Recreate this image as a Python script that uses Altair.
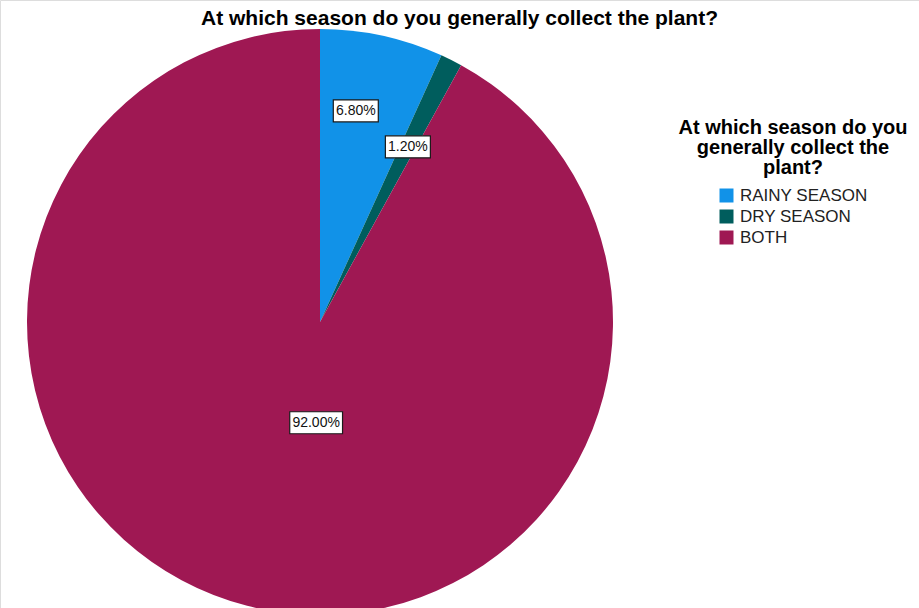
import altair as alt
import pandas as pd

categories = ["RAINY SEASON", "DRY SEASON", "BOTH"]
percents = [6.8, 1.2, 92.0]
labels = ["6.80%", "1.20%", "92.00%"]
order = [0, 1, 2]

colors = ["#1192e8", "#005d5d", "#9f1853"]
title_text = "At which season do you generally collect the plant?"

df = pd.DataFrame({"category": categories, "pct": percents, "label": labels, "order": order})

CX, CY, R = 320, 322, 293

base = alt.Chart(df)

pie = base.mark_arc(stroke=None).encode(
    theta=alt.Theta("pct:Q", stack=True),
    order=alt.Order("order:Q"),
    color=alt.Color(
        "category:N",
        scale=alt.Scale(domain=categories, range=colors),
        sort=categories,
        legend=alt.Legend(
            title=["At which season do you", "generally collect the", "plant?"],
            orient="none",
            legendX=679,
            legendY=118,
            titleFont="Liberation Sans",
            titleFontSize=20,
            titleFontWeight="bold",
            titleColor="#000000",
            titleAlign="center",
            titleAnchor="middle",
            titleLimit=400,
            titleLineHeight=20,
            titlePadding=9,
            labelFont="Liberation Sans",
            labelFontSize=17,
            labelColor="#222222",
            symbolType="square",
            symbolSize=196,
            symbolStrokeWidth=0,
            rowPadding=3,
            labelOffset=5,
        ),
    ),
    x=alt.value(CX),
    y=alt.value(CY),
    radius=alt.value(R),
)

pos = (
    base.transform_window(cum="sum(pct)", sort=[alt.SortField("order")], frame=[None, 0])
    .transform_calculate(
        mid="(datum.cum - datum.pct / 2) / 100 * 2 * PI",
        lr="datum.category == 'BOTH' ? 104 : (datum.category == 'DRY SEASON' ? 196 : 216)",
        lx=f"{CX} + datum.lr * sin(datum.mid) - (datum.category == 'RAINY SEASON' ? 10 : 0) + (datum.category == 'BOTH' ? 22 : 0)",
        ly=f"{CY} - datum.lr * cos(datum.mid)",
        w="length(datum.label) * 7.8 + 6",
        x1="datum.lx - datum.w / 2",
        x2="datum.lx + datum.w / 2",
        y1="datum.ly - 11",
        y2="datum.ly + 11",
    )
)

boxes = pos.mark_rect(fill="white", stroke="#1a1a1a", strokeWidth=1.2).encode(
    x=alt.X("x1:Q", scale=None, axis=None),
    x2="x2:Q",
    y=alt.Y("y1:Q", scale=None, axis=None),
    y2="y2:Q",
)

texts = pos.mark_text(
    font="Liberation Sans", fontSize=14, color="#111111", align="center", baseline="middle"
).encode(
    x=alt.X("lx:Q", scale=None, axis=None),
    y=alt.Y("ly:Q", scale=None, axis=None),
    text="label:N",
)

chart = (
    alt.layer(pie, boxes, texts)
    .properties(
        width=919,
        height=608,
        padding=0,
        autosize=alt.AutoSizeParams(type="none"),
        title=alt.TitleParams(
            text=title_text,
            font="Liberation Sans",
            fontSize=21,
            fontWeight="bold",
            color="#000000",
            anchor="middle",
            offset=-29,
            frame="bounds",
        ),
    )
    .configure_view(stroke=None)
    .configure(background="white")
)

chart.save("out.html", embed_options={"renderer": "svg", "actions": False})
